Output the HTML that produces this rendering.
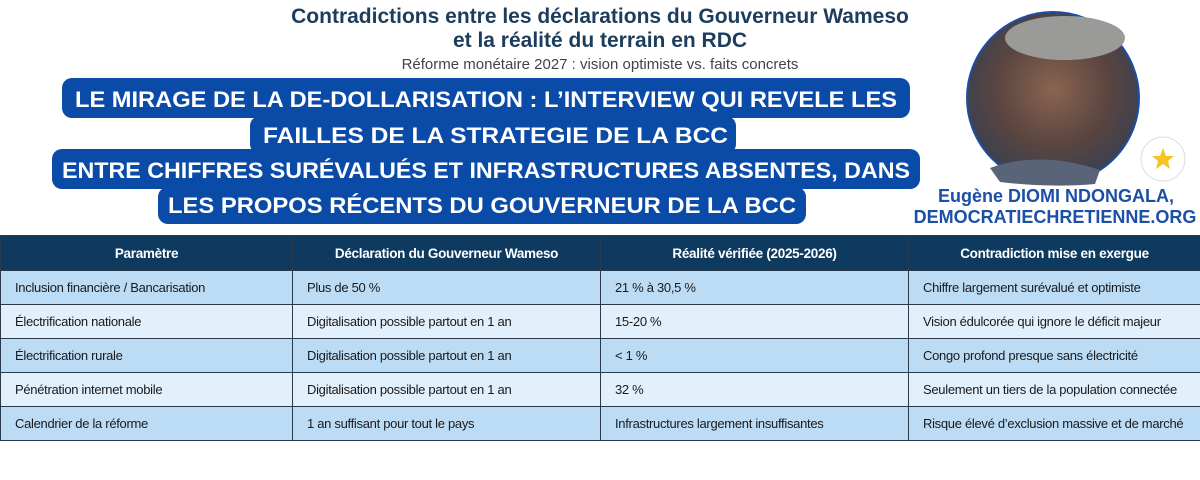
<!DOCTYPE html>
<html><head><meta charset="utf-8"><style>
body{margin:0;width:1200px;height:480px;background:#fff;position:relative;overflow:hidden;font-family:"Liberation Sans",sans-serif}
.t{position:absolute;left:0;width:1200px;text-align:center;color:#1d3d5c;font-weight:bold}
table{position:absolute;left:0;top:235px;border-collapse:collapse;font-size:13px;letter-spacing:-0.3px;table-layout:fixed;width:1230px}
td,th{border:1.5px solid #2a3a4a;padding:0 0 0 14px;height:33px;text-align:left;color:#1a1a1a;white-space:nowrap;overflow:hidden}
th{background:#0f3a5f;color:#fff;text-align:center;padding:0;font-size:13.5px}
tr.a td{background:#bcdcf6}tr.b td{background:#e2f0fb}
</style></head><body>
<div class="t" style="top:5px;font-size:21px;left:0">Contradictions entre les déclarations du Gouverneur Wameso</div>
<div class="t" style="top:29px;font-size:21px">et la réalité du terrain en RDC</div>
<div class="t" style="top:56px;font-size:15px;font-weight:normal;color:#444">Réforme monétaire 2027 : vision optimiste vs. faits concrets</div>
<svg style="position:absolute;left:0;top:0" width="1200" height="235">
<g fill="#0b4ba8">
<rect x="62" y="78" width="848" height="40" rx="10"/>
<rect x="250" y="116" width="486" height="38" rx="10"/>
<rect x="52" y="149" width="868" height="40" rx="10"/>
<rect x="158" y="187" width="648" height="37" rx="10"/>
</g>
<g fill="#fff" font-family="Liberation Sans" font-weight="bold" font-size="22">
<text x="75" y="107" textLength="822" lengthAdjust="spacingAndGlyphs">LE MIRAGE DE LA DE-DOLLARISATION : L’INTERVIEW QUI REVELE LES</text>
<text x="263" y="143" textLength="465" lengthAdjust="spacingAndGlyphs">FAILLES DE LA STRATEGIE DE LA BCC</text>
<text x="62" y="178" textLength="848" lengthAdjust="spacingAndGlyphs">ENTRE CHIFFRES SURÉVALUÉS ET INFRASTRUCTURES ABSENTES, DANS</text>
<text x="168" y="213" textLength="628" lengthAdjust="spacingAndGlyphs">LES PROPOS RÉCENTS DU GOUVERNEUR DE LA BCC</text>
</g>
<defs><radialGradient id="g" cx="50%" cy="45%" r="55%"><stop offset="0" stop-color="#8a6450"/><stop offset="0.6" stop-color="#5a4540"/><stop offset="1" stop-color="#3a4050"/></radialGradient></defs>
<circle cx="1053" cy="98" r="86" fill="url(#g)" stroke="#1b4ea5" stroke-width="2"/>
<ellipse cx="1065" cy="38" rx="60" ry="22" fill="#9a9a98"/>
<path d="M990 168 Q1040 150 1100 170 L1095 184 Q1050 188 1000 182Z" fill="#5a6478"/>
<circle cx="1163" cy="159" r="22" fill="#fff" stroke="#ddd"/>
<polygon points="1163,148 1166,156 1174,156 1168,161 1170,169 1163,164 1156,169 1158,161 1152,156 1160,156" fill="#f2c522"/>
<g fill="#1c4fa6" font-family="Liberation Sans" font-weight="bold" font-size="18" text-anchor="middle">
<text x="1056" y="202">Eugène DIOMI NDONGALA,</text>
<text x="1055" y="223">DEMOCRATIECHRETIENNE.ORG</text>
</g>
</svg>
<table>
<colgroup><col style="width:292px"><col style="width:308px"><col style="width:308px"><col style="width:322px"></colgroup>
<tr style="height:35px"><th>Paramètre</th><th>Déclaration du Gouverneur Wameso</th><th>Réalité vérifiée (2025-2026)</th><th style="padding-right:30px">Contradiction mise en exergue</th></tr>
<tr class="a"><td>Inclusion financière / Bancarisation</td><td>Plus de 50 %</td><td>21 % à 30,5 %</td><td>Chiffre largement surévalué et optimiste</td></tr>
<tr class="b"><td>Électrification nationale</td><td>Digitalisation possible partout en 1 an</td><td>15-20 %</td><td>Vision édulcorée qui ignore le déficit majeur</td></tr>
<tr class="a"><td>Électrification rurale</td><td>Digitalisation possible partout en 1 an</td><td>&lt; 1 %</td><td>Congo profond presque sans électricité</td></tr>
<tr class="b"><td>Pénétration internet mobile</td><td>Digitalisation possible partout en 1 an</td><td>32 %</td><td>Seulement un tiers de la population connectée</td></tr>
<tr class="a"><td>Calendrier de la réforme</td><td>1 an suffisant pour tout le pays</td><td>Infrastructures largement insuffisantes</td><td>Risque élevé d’exclusion massive et de marché</td></tr>
</table>
</body></html>
